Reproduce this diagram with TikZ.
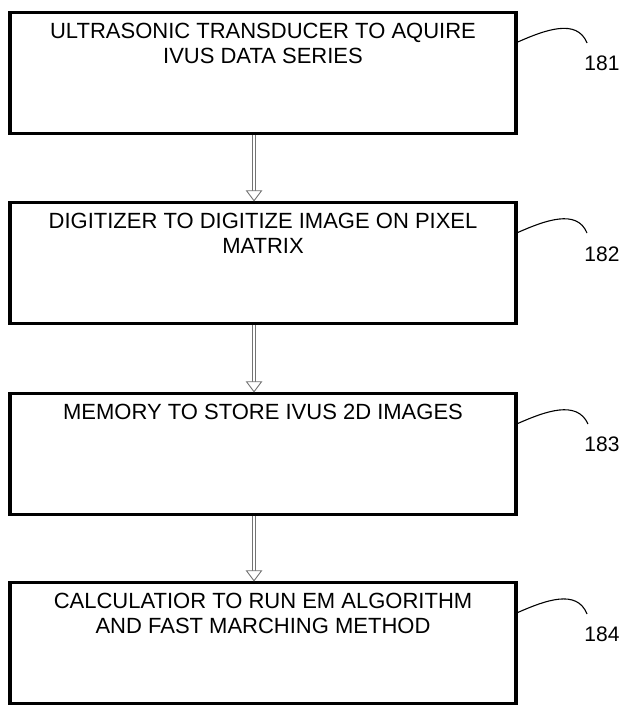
\documentclass[tikz,border=0pt]{standalone}
\usepackage{fontspec}
\setmainfont{Liberation Sans}
\begin{document}
\begin{tikzpicture}[x=1pt,y=-1pt,
  box/.style={draw=black, line width=3.5pt, minimum width=506pt, minimum height=121pt, inner sep=0pt},
  boxtext/.style={anchor=north, inner sep=0pt, align=center, font=\fontsize{22}{24.5}\selectfont},
  shaft/.style={draw=black!55, line width=0.9pt, double=white, double distance=2.6pt},
  headst/.style={draw=black!55, line width=0.9pt, fill=white, line join=miter},
  leader/.style={draw=black, line width=1.1pt},
  reflbl/.style={inner sep=0pt, font=\fontsize{21}{24}\selectfont}]
\useasboundingbox (0,0) rectangle (623,706);

\node[box] (b1) at (263,73) {};
\node[box] (b2) at (263,263) {};
\node[box] (b3) at (263,454) {};
\node[box] (b4) at (263,643) {};

\node[boxtext] (t1) at (263,23) {ULTRASONIC TRANSDUCER TO AQUIRE\\IVUS DATA SERIES};
\node[boxtext] (t2) at (263,213) {DIGITIZER TO DIGITIZE IMAGE ON PIXEL\\MATRIX};
\node[boxtext] (t3) at (263,404) {MEMORY TO STORE IVUS 2D IMAGES};
\node[boxtext] (t4) at (263,593) {CALCULATIOR TO RUN EM ALGORITHM\\AND FAST MARCHING METHOD};

% connectors
\foreach \a/\b in {b1/b2,b2/b3,b3/b4}{
  \draw[shaft] ([xshift=-9pt]\a.south) -- ([xshift=-9pt,yshift=9pt]\b.north);
  \draw[headst] ([xshift=-9pt]\b.north) -- ++(-7.5,-10) -- ++(15,0) -- cycle;
}

% reference numerals
\node[reflbl] (r1) at (602,63) {181};
\node[reflbl] (r2) at (602,254) {182};
\node[reflbl] (r3) at (602,444) {183};
\node[reflbl] (r4) at (602,634) {184};

\coordinate (e1) at (587,43);
\coordinate (e2) at (587,233);
\coordinate (e3) at (588,424);
\coordinate (e4) at (587,614);
\foreach \i/\t in {1/12,2/202.5,3/393.5,4/582.5}{
  \draw[leader] (b\i.east |- 0,\t+30) .. controls (545,\t+18) and (577,\t+6) .. (e\i);
}
\end{tikzpicture}
\end{document}
